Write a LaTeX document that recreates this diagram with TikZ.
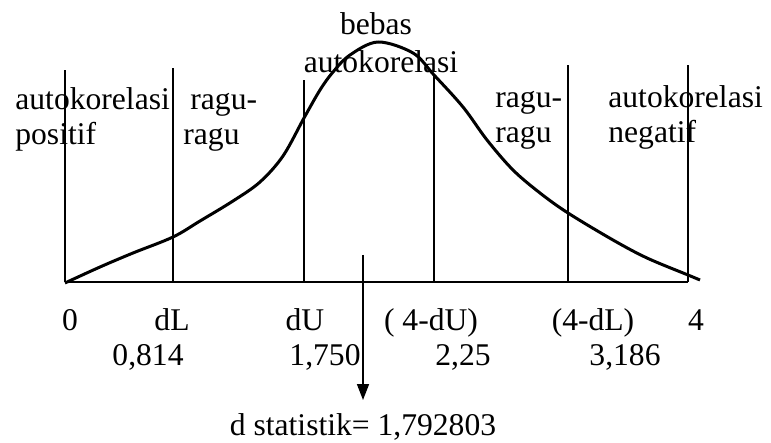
\documentclass[tikz,border=0pt]{standalone}
\usepackage{fontspec}
\setmainfont{Liberation Serif}
\usetikzlibrary{arrows.meta}
\tikzset{
  lbl/.style   ={font=\fontsize{15.8}{19}\selectfont, inner sep=0pt, anchor=base},
  lblw/.style  ={lbl, anchor=base west},
  bound/.style ={line width=1pt},
  axis/.style  ={line width=1.1pt},
  curve/.style ={line width=1.5pt, line join=round},
  pointer/.style={line width=0.8pt, -{Triangle[length=8pt,width=6pt]}},
}

\begin{document}
\begin{tikzpicture}[x=0.5pt,y=-0.5pt]
\useasboundingbox (0,0) rectangle (771,443);

% ---------------------------------------------------------------- boundaries
\foreach \name/\x/\top in {zero/65/70, dl/173/68, du/304/80,
                           fdu/434/75, fdl/568/65, four/688/65}{
  \coordinate (\name b) at (\x,282);
  \coordinate (\name t) at (\x,\top);
  \draw[bound] (\name b) -- (\name t);
}
\draw[axis] (zerob) -- (fourb);

% ---------------------------------------------------------------- curve
\draw[curve] plot[smooth, tension=0.55] coordinates {
  (65,283) (100,267) (133,253) (173,237) (200,221) (233,201) (260,182)
  (283,156) (304,118) (320,90) (333,72) (350,55) (378,42) (413,53)
  (434,75) (463,107) (487,140) (513,170) (540,193) (568,213) (613,240)
  (647,258) (688,275) (700,280)};

% ---------------------------------------------------------------- regions
\node[lblw] (posa) at (15,110) {autokorelasi};
\node[lblw] (posb) at (15,145) {positif};
\node[lblw] (ragla) at (190,110) {ragu-};
\node[lblw] (raglb) at (183,145) {ragu};
\node[lbl]  (beba) at (376,35) {bebas};
\node[lbl]  (bebb) at (381,73) {autokorelasi};
\node[lblw] (ragra) at (495,108) {ragu-};
\node[lblw] (ragrb) at (495,143) {ragu};
\node[lblw] (nega) at (608,108) {autokorelasi};
\node[lblw] (negb) at (608,143) {negatif};

% ---------------------------------------------------------------- axis labels
\node[lbl] (xzero) at (70,330)  {0};
\node[lbl] (xdl)   at (172,330) {dL};
\node[lbl] (xdu)   at (305,330) {dU};
\node[lbl] (xfdu)  at (431,330) {( 4-dU)};
\node[lbl] (xfdl)  at (593,330) {(4-dL)};
\node[lbl] (xfour) at (696,330) {4};
\node[lbl] (vdl)   at (148,365) {0,814};
\node[lbl] (vdu)   at (325,365) {1,750};
\node[lbl] (vfdu)  at (463,365) {2,25};
\node[lbl] (vfdl)  at (625,365) {3,186};

% ---------------------------------------------------------------- statistic
\coordinate (dtop) at (363,255);
\coordinate (dtip) at (363,400);
\node[lbl] (dstat) at (363,435) {d statistik= 1,792803};
\draw[pointer] (dtop) -- (dtip);

\end{tikzpicture}
\end{document}
